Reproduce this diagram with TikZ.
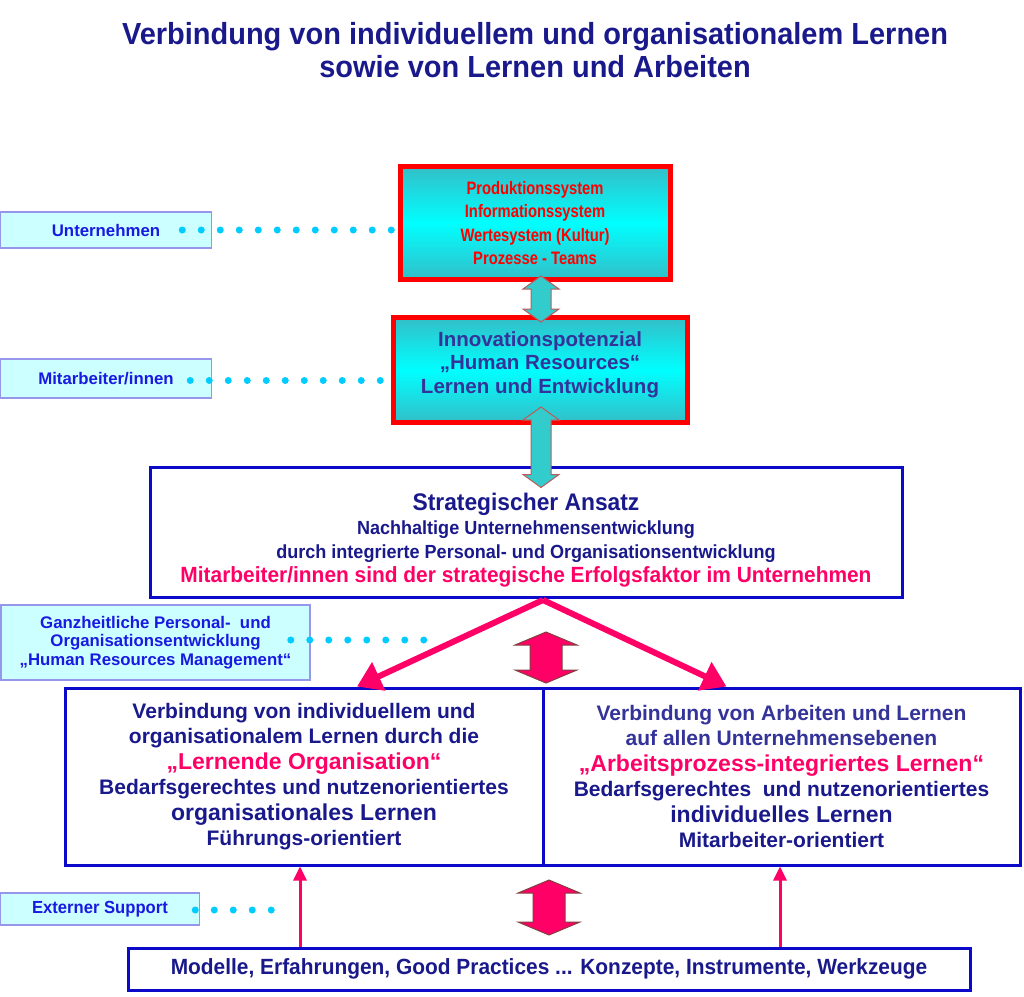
\documentclass[tikz,border=0pt]{standalone}
\usepackage{fontspec}
\setmainfont{Liberation Sans}
\newfontfamily\narrow[FakeStretch=0.82]{Liberation Sans}
\newfontfamily\semi[FakeStretch=0.95]{Liberation Sans}
\usetikzlibrary{arrows.meta,calc}

\definecolor{navy}{RGB}{25,25,140}
\definecolor{hrblue}{RGB}{51,51,153}
\definecolor{lbltext}{RGB}{25,25,225}
\definecolor{lblfill}{RGB}{204,255,255}
\definecolor{lbldraw}{RGB}{150,150,235}
\definecolor{boxblue}{RGB}{10,10,200}
\definecolor{hotpink}{RGB}{255,0,102}
\definecolor{dotcyan}{RGB}{0,204,255}
\definecolor{tealarr}{RGB}{51,204,204}
\definecolor{tealedge}{RGB}{51,190,200}
\definecolor{arredge}{RGB}{190,90,90}

% vertical double arrow: top point, bottom point, half shaft, half head, head length, style
\newcommand{\updown}[6]{%
  \draw[#6] let \p1=#1, \p2=#2 in
    (\x1,\y1) -- ({\x1+#4},{\y1-#5}) -- ({\x1+#3},{\y1-#5}) -- ({\x1+#3},{\y2+#5})
    -- ({\x1+#4},{\y2+#5}) -- (\x1,\y2) -- ({\x1-#4},{\y2+#5}) -- ({\x1-#3},{\y2+#5})
    -- ({\x1-#3},{\y1-#5}) -- ({\x1-#4},{\y1-#5}) -- cycle;}

\begin{document}
\begin{tikzpicture}[x=1pt,y=-1pt,
  sysbox/.style={draw=red,line width=5pt,top color=tealedge,bottom color=tealedge,middle color=cyan,
    align=center,inner sep=0pt},
  bluebox/.style={draw=boxblue,line width=3pt,fill=white,align=center,inner sep=0pt},
  lbl/.style={draw=lbldraw,line width=1.5pt,fill=lblfill,text=lbltext,align=center,inner sep=0pt,
    font=\bfseries\fontsize{16.8}{18.5}\selectfont},
  dots/.style={dotcyan,line width=7pt,line cap=round,dash pattern=on 0pt off 19pt},
  bigarrow/.style={hotpink,line width=6pt,-{Triangle[length=24pt,width=30pt]}},
  thinarrow/.style={hotpink,line width=3pt,-{Triangle[length=14pt,width=13pt]}},
  tealarrow/.style={fill=tealarr,draw=arredge,line width=1pt},
  pinkarrow/.style={fill=hotpink,draw=arredge!70!black,line width=1pt}]

\useasboundingbox (0,0) rectangle (1024,996);

% title
\node[text=navy,align=center,font=\semi\bfseries\fontsize{30.5}{33}\selectfont] (title) at (535,50)
  {Verbindung von individuellem und organisationalem Lernen\\sowie von Lernen und Arbeiten};

% upper boxes
\node[sysbox,minimum width=270,minimum height=113,text=red,
  font=\narrow\bfseries\fontsize{18}{23.5}\selectfont] (prod) at (535,223)
  {Produktionssystem\\Informationssystem\\Wertesystem (Kultur)\\Prozesse - Teams};
\node[sysbox,minimum width=294,minimum height=105,text=hrblue,
  font=\bfseries\fontsize{20.5}{23.5}\selectfont] (innov) at (540,370)
  {Innovationspotenzial\\„Human Resources“\\Lernen und Entwicklung\rule[-15pt]{0pt}{1pt}};

\node[bluebox,minimum width=752,minimum height=130,text=navy,
  font=\semi\bfseries\fontsize{19}{24}\selectfont] (strat) at (526,532)
  {\rule{0pt}{34pt}\fontsize{24}{26}\selectfont Strategischer Ansatz\\
   Nachhaltige Unternehmensentwicklung\\
   durch integrierte Personal- und Organisationsentwicklung\\
   \textcolor{hotpink}{\fontsize{22}{26}\selectfont Mitarbeiter/innen sind der strategische Erfolgsfaktor im Unternehmen}};

% lower boxes
\node[bluebox,minimum width=478,minimum height=177,text=navy,
  font=\bfseries\fontsize{21}{25.5}\selectfont] (lern) at (304,776.5)
  {Verbindung von individuellem und\\organisationalem Lernen durch die\\
   \textcolor{hotpink}{\fontsize{23}{25}\selectfont „Lernende Organisation“}\\
   Bedarfsgerechtes und nutzenorientiertes\\
   {\fontsize{23}{25}\selectfont organisationales Lernen}\\Führungs-orientiert};
\node[bluebox,minimum width=477,minimum height=177,text=navy,
  font=\bfseries\fontsize{21}{25.5}\selectfont] (arb) at (781.5,776.5)
  {\textcolor{hrblue}{Verbindung von Arbeiten und Lernen}\\
   \textcolor{hrblue}{auf allen Unternehmensebenen}\\
   \textcolor{hotpink}{\fontsize{23}{25}\selectfont „Arbeitsprozess-integriertes Lernen“}\\
   Bedarfsgerechtes\ \ und nutzenorientiertes\\
   {\fontsize{23}{25}\selectfont individuelles Lernen}\\Mitarbeiter-orientiert};

\node[bluebox,minimum width=842,minimum height=42,text=navy,
  font=\semi\bfseries\fontsize{22}{24}\selectfont] (mod) at (549,969)
  {Modelle, Erfahrungen, Good Practices ... Konzepte, Instrumente, Werkzeuge};

% labels on the left
\node[lbl,minimum width=211,minimum height=36] (unt) at (106,230) {Unternehmen};
\node[lbl,minimum width=211,minimum height=39] (mit) at (106,378.5) {Mitarbeiter/innen};
\node[lbl,minimum width=309,minimum height=75] (ganz) at (155.5,642.5)
  {Ganzheitliche Personal-\ \ und\\Organisationsentwicklung\\„Human Resources Management“};
\node[lbl,minimum width=199,minimum height=32,font=\semi\bfseries\fontsize{17.5}{19}\selectfont]
  (ext) at (100,909) {Externer Support};

\coordinate (ganzend) at (430,640);
\coordinate (extend) at (285,910);
\draw[dots] ([xshift=-30pt]unt.east) -- (unt.east -| prod.west);
\draw[dots] ([xshift=-22pt,yshift=-2pt]mit.east) -- ([yshift=-2pt]mit.east -| innov.west);
\draw[dots] (ganzend -| ganz.east) ++(-20,0) -- (ganzend);
\draw[dots] (extend -| ext.east) ++(-5,0) -- (extend);

% arrows between the boxes
\updown{([xshift=6pt,yshift=6pt]prod.south)}{([yshift=-7pt]innov.north)}{10pt}{18pt}{13pt}{tealarrow}
\updown{([xshift=1pt,yshift=18pt]innov.south)}{([xshift=15pt,yshift=-22pt]strat.north)}{10pt}{18pt}{13pt}{tealarrow}

\coordinate (apex) at (543,600);
\draw[bigarrow] (apex) -- ([xshift=53pt]lern.north);
\draw[bigarrow] (apex) -- ([xshift=-55pt]arb.north);

\coordinate (pinkA) at (546,632);
\coordinate (pinkB) at (546,683);
\updown{(pinkA)}{(pinkB)}{16pt}{31pt}{13pt}{pinkarrow}
\coordinate (pinkC) at (549,880);
\coordinate (pinkD) at (549,935);
\updown{(pinkC)}{(pinkD)}{16pt}{31pt}{13pt}{pinkarrow}

\coordinate (upL) at (300,0);
\coordinate (upR) at (780,0);
\draw[thinarrow] (upL |- mod.north) -- (upL |- lern.south);
\draw[thinarrow] (upR |- mod.north) -- (upR |- arb.south);
\end{tikzpicture}
\end{document}
